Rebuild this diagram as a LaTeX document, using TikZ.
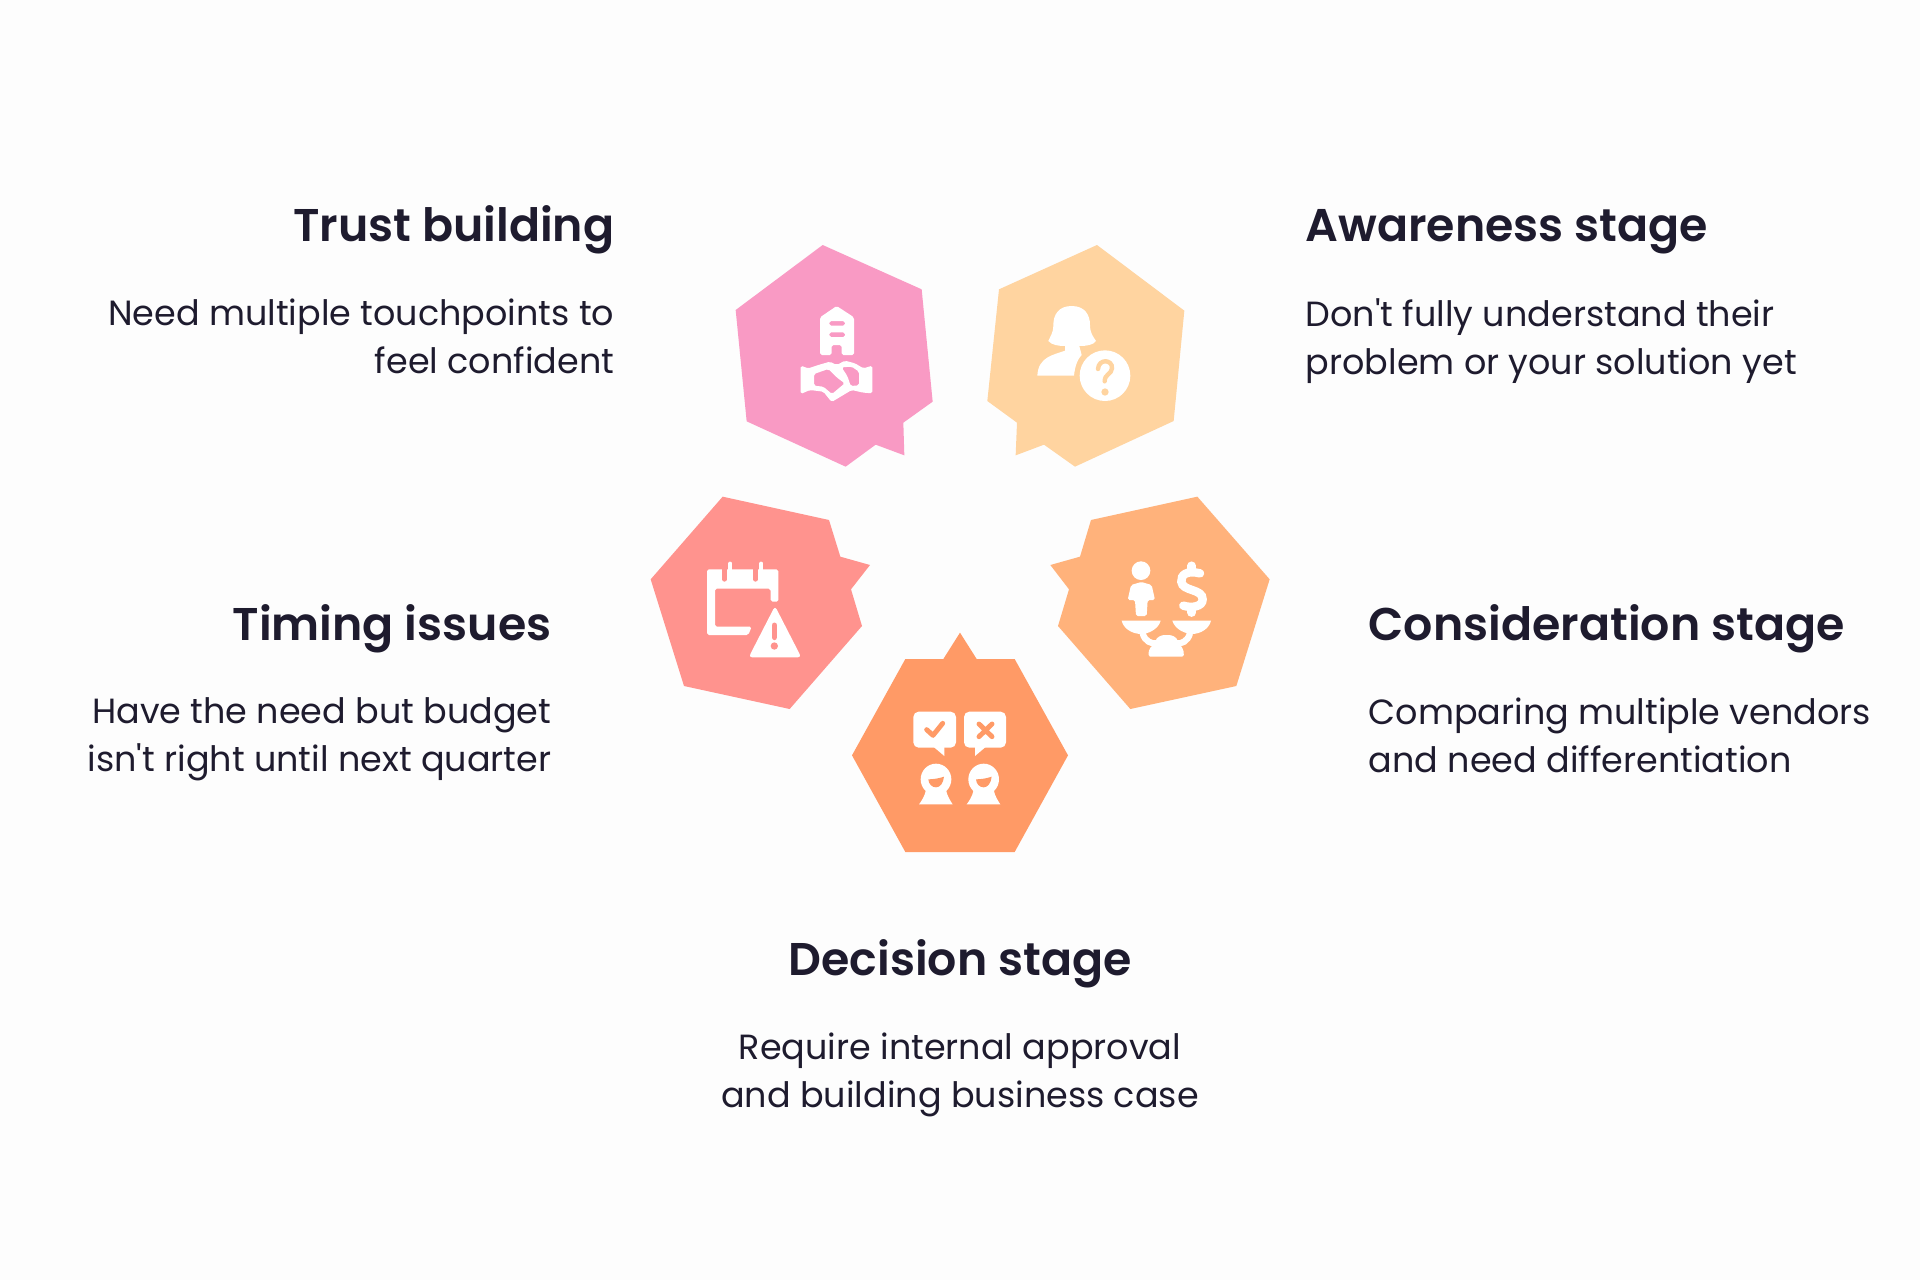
\documentclass[tikz,border=0pt]{standalone}
\usepackage{fontspec}
\setmainfont{Poppins}[Ligatures=TeXOff]
\newfontfamily\headfont{Poppins SemiBold}
\usepackage{xcolor}
\usetikzlibrary{positioning}
\definecolor{ink}{HTML}{1E1B2E}
\definecolor{paper}{HTML}{FDFDFD}
\definecolor{pinkhex}{HTML}{F99AC4}
\definecolor{peachhex}{HTML}{FFD4A0}
\definecolor{coralhex}{HTML}{FF938E}
\definecolor{amberhex}{HTML}{FFB27B}
\definecolor{deephex}{HTML}{FF9A66}
\tikzset{
    heading/.style={inner sep=0pt, text=ink, font=\headfont\fontsize{13.05}{16}\selectfont},
    blurb/.style={inner sep=0pt, text=ink, font=\fontsize{9.95}{13.6}\selectfont},
    icon/.style={fill=white, rounded corners=0.5pt},
}

\begin{document}
\begin{tikzpicture}[x=0.1mm, y=-0.1mm]
    \useasboundingbox (0,0) rectangle (1920,1280);
    \fill[paper] (0,0) rectangle (1920,1280);

    % Trust building
    \begin{scope}[shift={(710,220)}, scale=1/3]
        \fill[pinkhex] (338,75) -- (635,208) -- (668,545) -- (580,608) -- (583,706) -- (497,674) -- (407,740) -- (110,604) -- (77,270) -- cycle;
        \fill[icon, even odd rule] (380,258) -- (432,292) -- (432,405) -- (395,405) -- (395,375) -- (365,375) -- (365,405) -- (330,405) -- (330,292) -- cycle
            (358,303) rectangle (405,317) (358,337) rectangle (405,351);
        \fill[icon, even odd rule] (272,437) -- (295,445) -- (325,435) -- (360,425) -- (380,435) -- (405,422) -- (435,430) -- (460,445) -- (487,437) -- (487,520) -- (460,518) -- (425,510) -- (365,546) -- (340,515) -- (300,510) -- (272,522) -- cycle
            (312,462) -- (355,447) -- (380,472) -- (404,490) -- (366,522) -- (340,500) -- (312,497) -- cycle
            (395,442) -- (425,440) -- (447,455) -- (447,496) -- (422,498) -- (412,468) -- cycle;
    \end{scope}

    % Awareness stage
    \begin{scope}[shift={(970,220)}, scale=1/3]
        \fill[peachhex] (381,75) -- (643,272) -- (611,603) -- (315,740) -- (222,674) -- (137,706) -- (141,608) -- (52,543) -- (87,208) -- cycle;
        \fill[white] (305,258) .. controls (265,258) and (250,285) .. (250,315) .. controls (250,340) and (240,350) .. (235,363) .. controls (245,375) and (265,378) .. (285,378) -- (285,392) .. controls (250,405) and (205,410) .. (202,467) -- (312,467) .. controls (315,435) and (325,415) .. (335,405) -- (328,378) .. controls (350,378) and (370,375) .. (378,363) .. controls (370,350) and (360,340) .. (360,315) .. controls (360,285) and (345,258) .. (305,258) -- cycle;
        \fill[peachhex] (405,467) circle (90);
        \fill[white] (405,467) circle (76);
        \draw[peachhex, line width=1.25pt, line cap=round] (384,447) .. controls (386,415) and (428,418) .. (426,445) .. controls (425,462) and (404,462) .. (404,484);
        \fill[peachhex] (405,516) circle (11);
    \end{scope}

    % Timing issues
    \begin{scope}[shift={(640,480)}, scale=1/3]
        \fill[coralhex] (248,50) -- (567,120) -- (601,230) -- (690,255) -- (633,328) -- (666,438) -- (449,687) -- (132,618) -- (32,298) -- cycle;
        \fill[icon] (201,268) -- (415,268) -- (415,365) -- (392,365) -- (392,326) -- (225,326) -- (225,440) -- (335,440) -- (325,465) -- (201,465) -- cycle;
        \foreach \ringx in {253,346} {
            \draw[white, line width=1.2pt, line cap=round] (\ringx+18,251) -- (\ringx+18,290);
            \draw[coralhex, line width=1.3pt, line cap=round] (\ringx,262) -- (\ringx,298);
        }
        \fill[icon, rounded corners=1pt] (405,378) -- (484,532) -- (326,532) -- cycle;
        \draw[coralhex, line width=1.6pt, line cap=round] (403,436) -- (403,472);
        \fill[coralhex] (403,498) circle (11);
    \end{scope}

    % Consideration stage
    \begin{scope}[shift={(1040,480)}, scale=1/3]
        \fill[amberhex] (472,50) -- (689,298) -- (589,618) -- (271,687) -- (54,438) -- (87,328) -- (31,255) -- (120,230) -- (153,120) -- cycle;
        \fill[white] (303,272) circle (28);
        \fill[icon] (304,306) -- (335,315) -- (345,360) -- (323,360) -- (320,408) -- (288,408) -- (285,360) -- (263,360) -- (273,315) -- cycle;
        \draw[white, line width=2.4pt, line cap=round] (480,280) .. controls (440,270) and (422,285) .. (424,305) .. controls (427,335) and (488,325) .. (488,358) .. controls (488,380) and (455,385) .. (430,377);
        \draw[white, line width=2.4pt, line cap=round] (455,257) -- (455,266) (455,390) -- (455,398);
        \fill[white] (245,422) -- (362,422) .. controls (355,450) and (320,462) .. (305,462) .. controls (275,462) and (250,445) .. (245,422) -- cycle;
        \fill[white] (397,422) -- (513,422) .. controls (508,445) and (483,462) .. (455,462) .. controls (440,462) and (405,450) .. (397,422) -- cycle;
        \draw[white, line width=1.8pt] (308,460) .. controls (315,485) and (335,492) .. (350,490) (450,460) .. controls (443,485) and (423,492) .. (410,490);
        \fill[icon] (345,488) .. controls (350,470) and (365,465) .. (380,465) .. controls (395,465) and (410,470) .. (415,488) -- (430,508) -- (432,530) -- (325,530) -- (327,508) -- cycle;
    \end{scope}

    % Decision stage
    \begin{scope}[shift={(840,620)}, scale=1/3]
        \fill[deephex] (360,38) -- (410,117) -- (524,117) -- (684,406) -- (524,696) -- (196,696) -- (36,406) -- (196,117) -- (310,117) -- cycle;
        \fill[icon, rounded corners=1.5pt] (220,275) -- (348,275) -- (348,383) -- (220,383) -- cycle;
        \fill[white] (280,380) -- (313,408) -- (313,380) -- cycle;
        \fill[icon, rounded corners=1.5pt] (372,275) -- (498,275) -- (498,383) -- (372,383) -- cycle;
        \fill[white] (405,380) -- (405,408) -- (438,380) -- cycle;
        \draw[deephex, line width=1.4pt, line cap=round, line join=round] (260,329) -- (279,346) -- (308,310);
        \draw[deephex, line width=1.4pt, line cap=round] (417,312) -- (456,350) (456,312) -- (417,350);
        \foreach \headx in {288,431} {
            \begin{scope}[shift={(\headx,0)}]
                \fill[white] (-30,510) -- (30,510) .. controls (34,530) and (45,545) .. (50,553) -- (-51,553) .. controls (-45,545) and (-34,530) .. (-30,510) -- cycle;
                \fill[white] (0,478) ellipse (46 and 47);
                \fill[deephex] (-23,478) .. controls (-8,478) and (10,475) .. (24,470) .. controls (22,490) and (12,502) .. (0,502) .. controls (-12,502) and (-22,492) .. (-23,478) -- cycle;
            \end{scope}
        }
    \end{scope}

    % Labels
    \node[heading, anchor=base east] (trustHead) at (615,241) {Trust building};
    \node[blurb, anchor=north east, align=right] (trustText) at (615,298) {Need multiple touchpoints to\\feel confident};

    \node[heading, anchor=base west] (awareHead) at (1305,241) {Awareness stage};
    \node[blurb, anchor=north west, align=left] (awareText) at (1305,298) {Don't fully understand their\\problem or your solution yet};

    \node[heading, anchor=base east] (timingHead) at (552,640) {Timing issues};
    \node[blurb, anchor=north east, align=right] (timingText) at (552,697) {Have the need but budget\\isn't right until next quarter};

    \node[heading, anchor=base west] (considerHead) at (1368,640) {Consideration stage};
    \node[blurb, anchor=north west, align=left] (considerText) at (1368,697) {Comparing multiple vendors\\and need differentiation};

    \node[heading, anchor=base] (decisionHead) at (960,975) {Decision stage};
    \node[blurb, anchor=north, align=center] (decisionText) at (960,1032) {Require internal approval\\and building business case};
\end{tikzpicture}
\end{document}
